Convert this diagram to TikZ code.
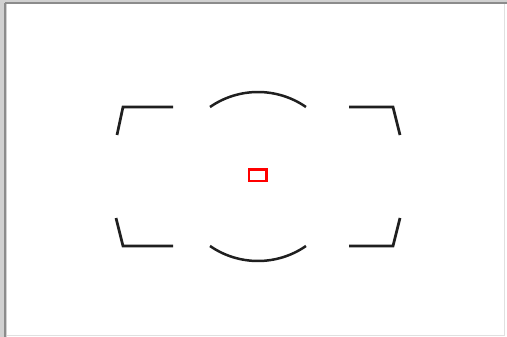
\documentclass[tikz,border=0pt]{standalone}
\begin{document}
\begin{tikzpicture}[x=1pt,y=-1pt,
  mark line/.style={line width=2.7pt,black!88,line cap=butt,line join=miter},
  af box/.style={line width=2.1pt,red}]
\useasboundingbox (0,0) rectangle (507,337);
\fill[white] (0,0) rectangle (507,337);
% frame
\fill[black!18] (0,0) rectangle (7,337);
\fill[black!18] (0,0) rectangle (507,4);
\draw[black!45,line width=1.6pt] (5,3) -- (5,337);
\draw[black!45,line width=1.6pt] (5,3) -- (507,3);
\draw[black!12,line width=1pt] (504,4) -- (504,335) -- (7,335);
% corner brackets
\draw[mark line] (117,135) -- (123,107) -- (173,107);
\draw[mark line] (349,107) -- (393,107) -- (400,135);
\draw[mark line] (116,218) -- (123,246) -- (173,246);
\draw[mark line] (349,246) -- (393,246) -- (400,218);
% arcs
\draw[mark line,line width=2.5pt] (210,107) arc[start angle=-124.7,end angle=-55.3,radius=84.3];
\draw[mark line,line width=2.5pt] (210,246) arc[start angle=124.7,end angle=55.3,radius=84.3];
% AF point
\draw[af box] (249,169.5) rectangle (266.5,181);
\end{tikzpicture}
\end{document}
